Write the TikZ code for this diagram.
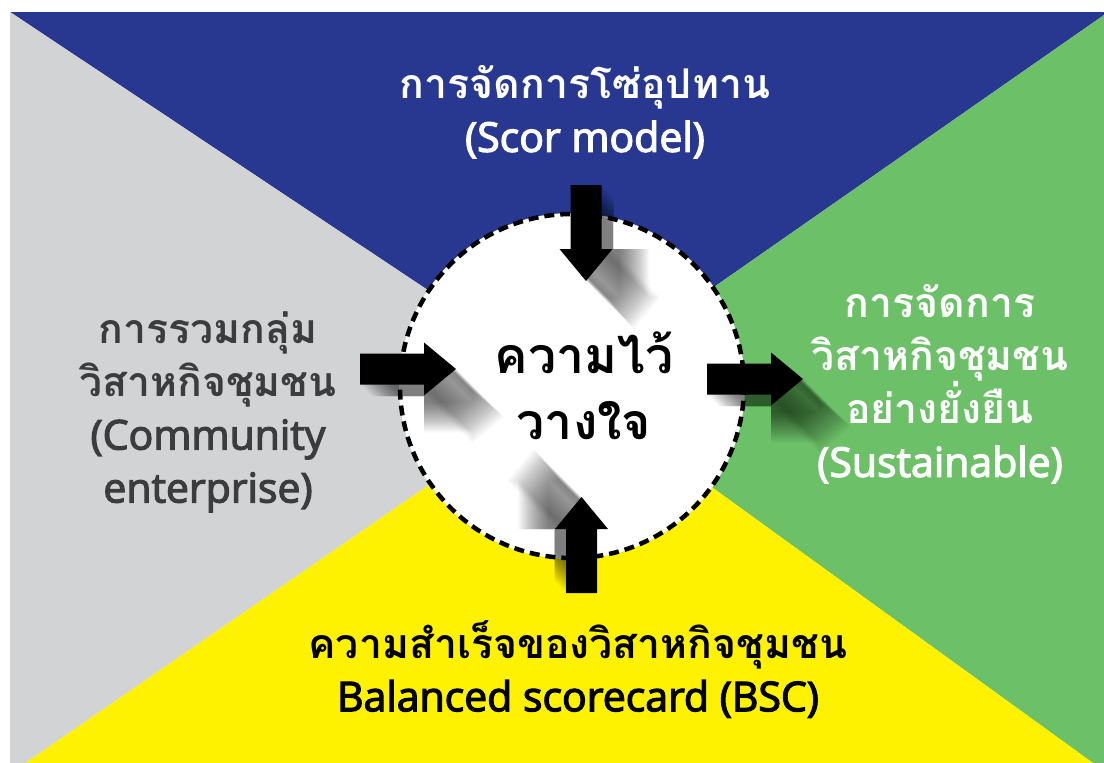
\documentclass[tikz,border=0pt]{standalone}
\usepackage{fontspec}
\setmainfont{Open Sans}[FakeBold=3]
\newfontfamily\thaifont[Script=Thai]{Loma}
\newcommand\thx[1]{{\thaifont\bfseries #1}}
\definecolor{cblue}{HTML}{283891}
\definecolor{cgrey}{HTML}{D1D3D4}
\definecolor{cgreen}{HTML}{6CC067}
\definecolor{cyellow}{HTML}{FFF200}
\definecolor{ctext}{HTML}{3C3C3E}
\tikzset{
  lbl/.style={align=center, inner sep=0pt, font=\fontsize{41}{53}\selectfont},
  bigl/.style={align=center, inner sep=0pt, font=\fontsize{50}{66}\selectfont},
  ring/.style={circle, minimum size=346pt, inner sep=0pt, fill=white},
}
\newcommand\arrowpath{(0,-15.5) -- (64,-15.5) -- (64,-26.5) -- (96,0) -- (64,26.5) -- (64,15.5) -- (0,15.5) -- cycle}
\newcommand\shadowclip{(0,-27) -- (64,-27) -- (64,-200) -- (220,-200) -- (220,200) -- (64,200) -- (64,27) -- (0,27) -- cycle}
% #1,#2 tail position, #3 rotation, #4 #5 shadow direction
\newcommand\blockarrow[5]{%
  \begin{scope}
    \clip[shift={(#1,#2)},rotate=#3] \shadowclip;
    \foreach \t in {1,...,48}{
      \fill[black,opacity=0.018,shift={(#1+\t*#4,#2+\t*#5)},rotate=#3] \arrowpath;
    }
  \end{scope}
}
\begin{document}
\begin{tikzpicture}[x=1pt,y=-1pt]
\useasboundingbox (0,0) rectangle (1104,763);
\fill[white] (0,0) rectangle (1104,763);
\coordinate (C) at (572,386);
\coordinate (tl) at (10,12);
\coordinate (tr) at (1104,12);
\coordinate (tr2) at (1104,15);
\coordinate (br) at (1104,763);
\coordinate (br2) at (1093,763);
\coordinate (bl2) at (25,763);
\coordinate (bl) at (10,763);
\fill[cblue] (tl) -- (tr) -- (tr2) -- (C) -- cycle;
\fill[cgreen] (tr2) -- (br) -- (br2) -- (C) -- cycle;
\fill[cyellow] (br2) -- (bl2) -- (C) -- cycle;
\fill[cgrey] (tl) -- (C) -- (bl2) -- (bl) -- cycle;
\node[ring] (trust) at (C) {};
% shadows
\blockarrow{586}{185}{-90}{1}{1}
\blockarrow{360}{369}{0}{1}{1}
\blockarrow{707}{379}{0}{1}{1}
\blockarrow{581.5}{593}{90}{-1}{-1}
\draw[black, line width=4.5pt, dash pattern=on 10pt off 6pt] (trust.center) circle (172pt);
% arrows
\fill[black,shift={(586,185)},rotate=-90] \arrowpath;
\fill[black,shift={(360,369)},rotate=0] \arrowpath;
\fill[black,shift={(707,379)},rotate=0] \arrowpath;
\fill[black,shift={(581.5,593)},rotate=90] \arrowpath;
% texts
\node[lbl, text=white] (top) at (585,112) {\thx{การจัดการโซ่อุปทาน}\\(Scor model)};
\node[lbl, text=ctext] (left) at (208,412) {\thx{การรวมกลุ่ม}\\\thx{วิสาหกิจชุมชน}\\(Community\\enterprise)};
\node[lbl, text=white] (right) at (940,384) {\thx{การจัดการ}\\\thx{วิสาหกิจชุมชน}\\\thx{อย่างยั่งยืน}\\(Sustainable)};
\node[lbl, text=black] (bottom) at (578,669) {\thx{ความสำเร็จของวิสาหกิจชุมชน}\\Balanced scorecard (BSC)};
\node[bigl, text=black] (centre) at (584,386) {\thx{ความไว้}\\\thx{วางใจ}};
\end{tikzpicture}
\end{document}
